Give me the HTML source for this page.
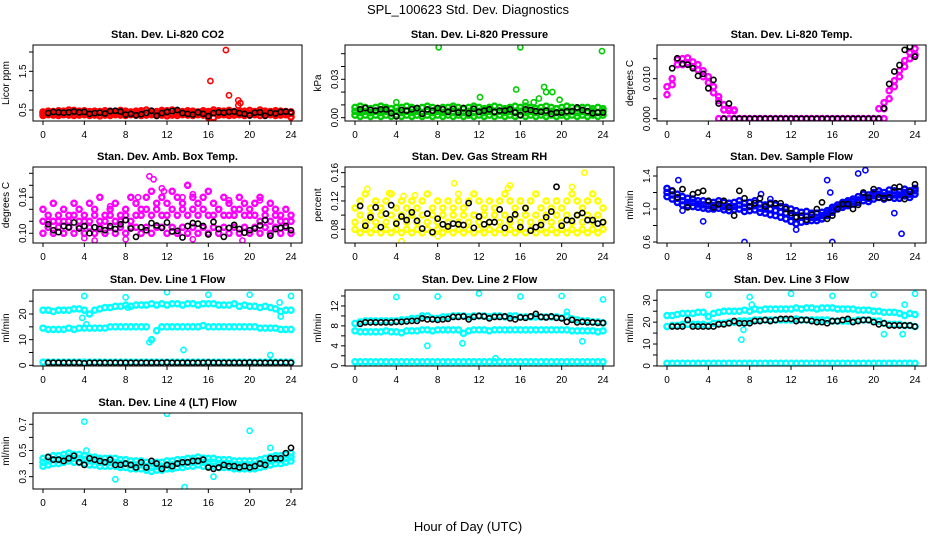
<!DOCTYPE html>
<html><head><meta charset="utf-8"><title>SPL_100623 Std. Dev. Diagnostics</title>
<style>
html,body{margin:0;padding:0;background:#fff;}
svg{display:block;font-family:"Liberation Sans",Arial,sans-serif;}
</style></head>
<body>
<svg id="chart" width="936" height="540" viewBox="0 0 936 540" xmlns="http://www.w3.org/2000/svg">
<text x="468" y="14" text-anchor="middle" font-size="13">SPL_100623  Std. Dev. Diagnostics</text>
<text x="468" y="531" text-anchor="middle" font-size="13">Hour of Day (UTC)</text>
<g id="panels"></g>
</svg>
<script>
const hours=[0,0.5,1,1.5,2,2.5,3,3.5,4,4.5,5,5.5,6,6.5,7,7.5,8,8.5,9,9.5,10,10.5,11,11.5,12,12.5,13,13.5,14,14.5,15,15.5,16,16.5,17,17.5,18,18.5,19,19.5,20,20.5,21,21.5,22,22.5,23,23.5,24];
const xTicks=[0,4,8,12,16,20,24];

// Panel 1: CO2
const co2A=[0.45,0.47,0.46,0.48,0.47,0.50,0.49,0.47,0.48,0.46,0.47,0.46,0.48,0.47,0.46,0.49,0.47,0.45,0.47,0.48,0.50,0.47,0.46,0.49,0.48,0.50,0.47,0.46,0.48,0.47,0.45,0.48,0.46,0.50,0.48,0.47,0.49,0.46,0.48,0.47,0.49,0.46,0.50,0.47,0.46,0.48,0.47,0.46,0.45];
const co2B=[0.36,0.38,0.37,0.36,0.38,0.37,0.36,0.37,0.38,0.36,0.37,0.35,0.37,0.36,0.38,0.37,0.36,0.38,0.37,0.36,0.37,0.38,0.36,0.37,0.35,0.37,0.36,0.38,0.37,0.36,0.38,0.37,0.36,0.30,0.37,0.38,0.36,0.37,0.38,0.36,0.37,0.38,0.36,0.37,0.38,0.36,0.37,0.38,0.32];
const co2C=[0.41,0.42,0.42,0.41,0.42,0.43,0.42,0.41,0.42,0.42,0.41,0.42,0.43,0.42,0.41,0.42,0.42,0.41,0.42,0.43,0.42,0.41,0.42,0.43,0.42,0.41,0.42,0.42,0.43,0.42,0.41,0.42,0.42,0.43,0.42,0.41,0.42,0.43,0.42,0.41,0.42,0.42,0.43,0.42,0.41,0.42,0.43,0.42,0.41];
const co2Black=[null,0.42,0.45,0.44,0.43,0.44,0.46,0.44,0.45,0.40,0.42,0.43,0.41,0.47,0.48,0.46,0.38,0.40,0.36,0.39,0.43,0.48,0.35,0.42,0.45,0.47,0.50,0.42,0.40,0.38,0.44,0.40,0.34,0.42,0.44,0.43,0.45,0.46,0.42,0.40,0.36,0.43,0.44,0.35,0.43,0.41,0.45,0.46,0.44];
const co2OutX=[17.7,16.2,18.0,18.9,19.1,18.9,16.0,24.0];
const co2OutY=[2.05,1.25,0.88,0.75,0.68,0.62,0.30,0.32];

// Panel 2: Pressure
const presA=[0.008,0.009,0.008,0.007,0.008,0.009,0.008,0.007,0.008,0.008,0.009,0.008,0.007,0.008,0.009,0.008,0.007,0.008,0.008,0.009,0.008,0.007,0.008,0.009,0.008,0.007,0.008,0.009,0.008,0.007,0.008,0.009,0.008,0.009,0.008,0.007,0.008,0.009,0.008,0.007,0.008,0.009,0.008,0.007,0.008,0.008,0.007,0.008,0.007];
const presB=[0.005,0.004,0.005,0.004,0.005,0.004,0.005,0.004,0.005,0.004,0.005,0.004,0.005,0.004,0.005,0.004,0.005,0.004,0.005,0.004,0.005,0.004,0.005,0.004,0.005,0.004,0.005,0.004,0.005,0.004,0.005,0.004,0.005,0.004,0.005,0.004,0.005,0.004,0.005,0.004,0.005,0.004,0.005,0.004,0.005,0.004,0.005,0.004,0.005];
const presC=[0.002,0.001,0.002,0.001,0.002,0.001,0.002,0.001,0.002,0.001,0.002,0.001,0.002,0.001,0.002,0.001,0.002,0.001,0.002,0.001,0.002,0.001,0.002,0.001,0.002,0.001,0.002,0.001,0.002,0.001,0.002,0.001,0.002,0.001,0.002,0.001,0.002,0.001,0.002,0.001,0.002,0.001,0.002,0.001,0.002,0.001,0.002,0.001,0.002];
const presBlack=[null,0.0065,0.0075,0.006,0.0055,0.0065,0.0065,0.0035,0.001,0.006,0.0055,0.0065,0.0075,0.003,0.0065,0.0055,0.0075,0.0065,0.0045,0.007,0.004,0.0075,0.0035,0.007,0.0045,0.0055,0.0065,0.0045,0.0055,0.0055,0.0065,0.004,0.002,0.0065,0.006,0.005,0.0045,0.0055,0.003,0.004,0.004,0.005,0.005,0.008,0.006,0.005,0.0035,0.004,0.004];
const presOutX=[8.1,16.0,23.9,15.6,18.3,18.5,19.1,12.1,17.8,19.8,4.0,16.5,17.3];
const presOutY=[0.055,0.055,0.052,0.022,0.024,0.020,0.020,0.016,0.015,0.014,0.012,0.012,0.012];

// Panel 3: Temp
const tempA=[0.008,0.010,0.0148,0.0150,0.0152,0.0142,0.0135,0.0120,0.0105,0.0080,0.0055,0.0035,0.0025,0.0022,0,0,0,0,0,0,0,0,0,0,0,0,0,0,0,0,0,0,0,0,0,0,0,0,0,0,0,0.0025,0.0040,0.0070,0.0095,0.0120,0.0145,0.0165,0.0175];
const tempB=[0.006,0.0085,0.0135,0.0135,0.0140,0.0130,0.0122,0.0105,0.0090,0.0065,0.0045,0.0022,0.0020,0.0020,0,0,0,0,0,0,0,0,0,0,0,0,0,0,0,0,0,0,0,0,0,0,0,0,0,0,0,0,0.0025,0.0050,0.0080,0.0105,0.0130,0.0150,0.0160];
const tempC=[null,null,null,null,null,null,null,null,null,null,0,0,0,0,0,0,0,0,0,0,0,0,0,0,0,0,0,0,0,0,0,0,0,0,0,0,0,0,0,0,0,0,0,null,null,null,null,null,null];
const tempBlack=[null,0.0126,0.0151,0.0137,0.0135,0.0126,0.0107,0.0112,0.0076,0.0097,0.0038,0,0.0038,0,0,0,0,0,0,0,0,0,0,0,0,0,0,0,0,0,0,0,0,0,0,0,0,0,0,0,0,0,0.0026,0.0087,0.0118,0.0134,0.0172,0.0180,0.0155];
const tempOutX=[];
const tempOutY=[];

// Panel 4: Amb Box Temp
const ambA=[0.14,0.13,0.15,0.12,0.14,0.13,0.15,0.14,0.13,0.15,0.14,0.16,0.13,0.14,0.15,0.13,0.14,0.16,0.15,0.14,0.16,0.17,0.15,0.16,0.15,0.17,0.16,0.15,0.18,0.16,0.15,0.16,0.17,0.15,0.14,0.16,0.15,0.14,0.16,0.15,0.14,0.15,0.16,0.14,0.15,0.14,0.13,0.14,0.13];
const ambB=[0.12,0.12,0.12,0.13,0.12,0.12,0.13,0.12,0.12,0.12,0.13,0.12,0.12,0.13,0.12,0.12,0.13,0.12,0.13,0.13,0.14,0.13,0.14,0.13,0.13,0.14,0.13,0.14,0.13,0.14,0.13,0.14,0.13,0.13,0.14,0.13,0.13,0.13,0.14,0.13,0.13,0.13,0.12,0.13,0.12,0.13,0.12,0.12,0.12];
const ambC=[0.10,0.11,0.10,0.11,0.10,0.11,0.10,0.11,0.10,0.11,0.10,0.11,0.10,0.11,0.10,0.11,0.10,0.11,0.11,0.10,0.11,0.10,0.11,0.11,0.10,0.11,0.10,0.11,0.10,0.11,0.10,0.11,0.10,0.11,0.10,0.11,0.10,0.11,0.10,0.11,0.10,0.11,0.10,0.11,0.10,0.11,0.10,0.11,0.10];
const ambBlack=[null,0.115,0.105,0.102,0.112,0.11,0.118,0.108,0.112,0.100,0.11,0.107,0.105,0.112,0.107,0.115,0.122,0.108,0.094,0.11,0.105,0.117,0.113,0.109,0.118,0.103,0.104,0.093,0.112,0.117,0.116,0.112,0.098,0.119,0.107,0.094,0.109,0.114,0.107,0.101,0.105,0.108,0.113,0.122,0.096,0.107,0.109,0.112,0.105];
const ambOutX=[10.3,10.7,11.5,11.7,14.5,18.0,21.0,9.2,6.5,4.0,5.0,8.0,14.5,19.3,1.0,13.5];
const ambOutY=[0.195,0.19,0.175,0.17,0.165,0.155,0.155,0.16,0.145,0.092,0.088,0.09,0.09,0.088,0.15,0.16];

// Panel 5: Gas Stream RH
const rhA=[0.11,0.12,0.13,0.11,0.12,0.11,0.12,0.13,0.11,0.12,0.11,0.12,0.11,0.12,0.13,0.11,0.12,0.11,0.12,0.11,0.12,0.11,0.12,0.13,0.12,0.11,0.12,0.11,0.12,0.13,0.12,0.11,0.12,0.11,0.12,0.13,0.11,0.12,0.11,0.12,0.11,0.12,0.13,0.12,0.11,0.12,0.13,0.12,0.11];
const rhB=[0.09,0.10,0.09,0.10,0.09,0.10,0.09,0.10,0.09,0.10,0.09,0.10,0.09,0.10,0.09,0.10,0.09,0.10,0.09,0.10,0.09,0.10,0.09,0.10,0.09,0.10,0.09,0.10,0.09,0.10,0.09,0.10,0.09,0.10,0.09,0.10,0.09,0.10,0.09,0.10,0.09,0.10,0.09,0.10,0.09,0.10,0.09,0.10,0.09];
const rhC=[0.08,0.075,0.08,0.075,0.08,0.075,0.08,0.075,0.08,0.075,0.08,0.075,0.08,0.075,0.08,0.075,0.08,0.075,0.08,0.075,0.08,0.075,0.08,0.075,0.08,0.075,0.08,0.075,0.08,0.075,0.08,0.075,0.08,0.075,0.08,0.075,0.08,0.075,0.08,0.075,0.08,0.075,0.08,0.075,0.08,0.075,0.08,0.075,0.08];
const rhBlack=[null,0.113,0.085,0.097,0.111,0.083,0.102,0.114,0.088,0.098,0.093,0.104,0.092,0.081,0.102,0.076,0.095,0.087,0.084,0.088,0.087,0.086,0.117,0.082,0.098,0.087,0.090,0.090,0.108,0.082,0.094,0.101,0.083,0.110,0.078,0.083,0.086,0.097,0.105,0.140,0.085,0.093,0.092,0.100,0.103,0.093,0.093,0.088,0.090];
const rhOutX=[1.2,3.3,4.7,9.6,14.8,15.0,22.2,21.0,5.8,4.5,10.0,8.0];
const rhOutY=[0.137,0.131,0.127,0.145,0.138,0.142,0.160,0.140,0.128,0.063,0.130,0.070];

// Panel 6: Sample Flow
const sfA=[1.25,1.22,1.18,1.15,1.13,1.12,1.10,1.10,1.09,1.08,1.10,1.08,1.07,1.08,1.10,1.07,1.08,1.10,1.06,1.05,1.07,1.05,1.03,1.02,1.00,0.98,0.96,0.97,0.95,0.95,0.96,0.98,1.02,1.05,1.08,1.10,1.12,1.15,1.18,1.17,1.20,1.22,1.20,1.23,1.22,1.21,1.24,1.22,1.25];
const sfB=[1.15,1.12,1.08,1.05,1.04,1.03,1.02,1.01,1.00,1.00,1.01,0.99,0.98,0.99,1.00,0.97,0.98,0.99,0.96,0.95,0.93,0.92,0.90,0.88,0.85,0.82,0.84,0.85,0.86,0.86,0.88,0.92,0.96,1.00,1.02,1.04,1.06,1.08,1.10,1.09,1.12,1.14,1.12,1.14,1.13,1.13,1.16,1.14,1.18];
const sfC=[1.20,1.17,1.13,1.10,1.08,1.08,1.06,1.05,1.04,1.04,1.05,1.03,1.03,1.03,1.05,1.02,1.03,1.04,1.01,1.00,1.00,0.98,0.96,0.95,0.92,0.90,0.90,0.91,0.90,0.90,0.92,0.95,0.99,1.02,1.05,1.07,1.09,1.11,1.14,1.13,1.16,1.18,1.16,1.18,1.17,1.17,1.20,1.18,1.22];
const sfBlack=[null,1.22,1.14,1.24,1.02,1.18,1.20,1.22,1.10,1.02,1.06,1.10,1.02,0.92,1.22,1.13,1.03,1.07,1.13,1.03,1.06,1.07,1.07,1.00,0.95,0.90,0.92,0.87,0.93,1.00,1.08,0.88,0.92,1.00,1.06,1.06,1.00,1.05,1.20,1.14,1.24,1.14,1.13,1.14,1.26,1.27,1.12,1.21,1.30];
const sfOutX=[1.1,3.5,7.5,15.5,15.8,16.0,18.5,19.2,22.7,10.0,9.1,12.5,22.0,1.5];
const sfOutY=[1.35,0.85,0.60,1.35,1.20,0.60,1.43,1.47,0.70,1.12,1.18,0.75,0.95,0.98];

// Panel 7: Line 1 Flow
const l1A=[21.5,21.5,21,21.5,21.5,21.5,22,22,21.5,20,21.5,22,22.5,22.5,23,23,23.5,23,23.5,23.5,23.5,24,23.5,24,23.5,24,24,23.5,24,24,23.5,24,24,24,23.5,23.5,23.5,24,23,23.5,23,23,22.5,23,22.5,22,21,21.5,21.5];
const l1B=[14.5,14,14,14,14,14.5,14,14.5,14.5,14.5,14.5,14.5,14.5,15,15,15,15,15,15,15,15,10,13.5,15,15,15,15,15,15,15,15,15.5,15,15,15,15,15,15,15,15,15,15,14.5,14.5,14.5,14.5,14,14,14];
const l1C=[1.2,1.2,1.2,1.2,1.2,1.2,1.2,1.2,1.2,1.2,1.2,1.2,1.2,1.2,1.2,1.2,1.2,1.2,1.2,1.2,1.2,1.2,1.2,1.2,1.2,1.2,1.2,1.2,1.2,1.2,1.2,1.2,1.2,1.2,1.2,1.2,1.2,1.2,1.2,1.2,1.2,1.2,1.2,1.2,1.2,1.2,1.2,1.2,1.2];
const l1Black=[null,1,1,1,1,1,1,1,0.8,1,1,1,1,1,1,1,1,1,1,1,1,1,1,1,1.1,1,1,1,1,1,1,1,1.1,1,1,1,1,1,1,1,1.1,1,1,1,1,1,1,1,1];
const l1OutX=[4.0,8.0,12.0,16.0,20.0,24.0,10.3,13.6,22.0,3.8,23.0,22.9,4.2,8.2];
const l1OutY=[27,26.5,28.5,27.5,27.5,27,9,6,4,18.5,19,24.5,16,22.5];

// Panel 8: Line 2 Flow
const l2A=[8.5,8.8,9,9,9,9,9,9,9,9.2,9.2,9.5,9.5,10,10,9.5,9.5,9.8,9.8,10,10,10,9.8,10,10,10,9.8,10,10,9.8,10,10,9.8,9.8,9.8,9.8,9.8,9.8,9.8,9.8,9.6,10,9.4,9.2,9,9,8.8,8.8,8.6];
const l2B=[7,6.8,6.8,6.8,6.8,6.8,7,6.8,6.8,6.6,7,7,7,7.2,7.2,7,7.2,7.2,7.2,7.2,7.2,6.5,7,7.2,7.2,7.2,7,7.2,7.2,7.2,7.2,7.2,7.2,7.2,7.2,7.2,7.2,7.2,7.2,7.2,7.2,7.2,7,7,7,7,7,6.8,7];
const l2C=[0.8,0.8,0.8,0.8,0.8,0.8,0.8,0.8,0.8,0.8,0.8,0.8,0.8,0.8,0.8,0.8,0.8,0.8,0.8,0.8,0.8,0.8,0.8,0.8,0.8,0.8,0.8,0.8,0.8,0.8,0.8,0.8,0.8,0.8,0.8,0.8,0.8,0.8,0.8,0.8,0.8,0.8,0.8,0.8,0.8,0.8,0.8,0.8,0.8];
const l2Black=[null,8.4,8.7,8.7,8.7,8.7,8.7,8.7,8.8,8.8,8.9,9.0,9.0,9.5,9.3,9.3,9.2,9.3,9.4,9.8,9.8,9.9,9.3,9.8,10,9.9,9.5,9.8,9.8,9.9,9.5,9.3,9.7,9.6,9.9,10.4,9.8,9.7,9.9,9.6,9.5,8.8,9.2,8.7,8.8,8.7,8.7,8.6,8.6];
const l2OutX=[4.0,8.0,12.0,16.0,20.0,24.0,7.0,10.4,22.0,13.6,20.5];
const l2OutY=[13.8,13.9,14.5,13.9,14.0,13.3,4.0,4.5,4.9,1.5,10.8];

// Panel 9: Line 3 Flow
const l3A=[23,23,23.5,24,24,24,24.5,24.5,22.5,24,24.5,25,25,25,25,25.5,25,26,25.5,26,26,26,26,26,26,26.5,26,26.5,26.5,26,26.5,26.5,26.5,26,26,26,26,25.5,25.5,25.5,25,25,24.5,24.5,24.5,24,23,24,23.5];
const l3B=[18,18.5,18.5,19,19,19,19,19,18.5,19.5,19.5,19.5,20,20,20.5,20.5,20.5,21,21,21,21,21,21,21,21,21.5,21,21,21,21,21,21,20.5,20.5,20.5,20.5,20.5,21,21,21,20.5,20.5,19.5,19,19,19,18.5,18.5,18];
const l3C=[1.2,1.2,1.2,1.2,1.2,1.2,1.2,1.2,1.2,1.2,1.2,1.2,1.2,1.2,1.2,1.2,1.2,1.2,1.2,1.2,1.2,1.2,1.2,1.2,1.2,1.2,1.2,1.2,1.2,1.2,1.2,1.2,1.2,1.2,1.2,1.2,1.2,1.2,1.2,1.2,1.2,1.2,1.2,1.2,1.2,1.2,1.2,1.2,1.2];
const l3Black=[null,18,18,18,21,18,18,18,18,18,19,19,19.5,20.5,19.5,19.5,19.5,20.5,20.5,21,20.5,21,21.5,21.5,21.5,20.5,21,21,20.5,20,20,19.5,20.5,20.5,21,21.5,20,20.5,21,21,20,19,19.5,18.5,18.5,18.5,18.5,18.5,18];
const l3OutX=[4.0,8.0,12.0,16.0,20.0,24.0,7.2,7.4,21.0,22.8,23.0,8.2];
const l3OutY=[32.5,31.5,33,32,32.5,33,12,16.5,14.5,14.5,28,28];

// Panel 10: Line 4 (LT) Flow
const l4A=[0.44,0.45,0.46,0.46,0.47,0.48,0.47,0.47,0.46,0.45,0.45,0.44,0.44,0.44,0.44,0.43,0.43,0.42,0.42,0.42,0.41,0.40,0.41,0.41,0.42,0.42,0.43,0.43,0.44,0.44,0.45,0.44,0.44,0.44,0.43,0.43,0.43,0.42,0.42,0.42,0.42,0.42,0.43,0.44,0.45,0.46,0.46,0.47,0.48];
const l4B=[0.38,0.39,0.40,0.40,0.41,0.42,0.41,0.41,0.40,0.39,0.39,0.38,0.38,0.38,0.38,0.37,0.37,0.36,0.36,0.36,0.35,0.34,0.35,0.35,0.36,0.36,0.37,0.37,0.38,0.38,0.39,0.38,0.38,0.38,0.37,0.37,0.37,0.36,0.36,0.36,0.36,0.36,0.37,0.38,0.39,0.40,0.40,0.41,0.42];
const l4C=[0.41,0.42,0.43,0.43,0.44,0.45,0.44,0.44,0.43,0.42,0.42,0.41,0.41,0.41,0.41,0.40,0.40,0.39,0.39,0.39,0.38,0.37,0.38,0.38,0.39,0.39,0.40,0.40,0.41,0.41,0.42,0.41,0.41,0.41,0.40,0.40,0.40,0.39,0.39,0.39,0.39,0.39,0.40,0.41,0.42,0.43,0.43,0.44,0.45];
const l4Black=[null,0.45,0.43,0.43,0.42,0.44,0.46,0.41,0.39,0.44,0.43,0.42,0.41,0.43,0.39,0.39,0.40,0.39,0.37,0.41,0.37,0.42,0.40,0.36,0.39,0.38,0.40,0.41,0.41,0.42,0.42,0.43,0.37,0.36,0.37,0.39,0.38,0.38,0.37,0.38,0.37,0.38,0.40,0.39,0.44,0.44,0.44,0.48,0.52];
const l4OutX=[4.0,12.0,20.0,13.7,7.0,16.5,22.0,4.2];
const l4OutY=[0.72,0.78,0.65,0.22,0.28,0.30,0.52,0.50];

const NS='http://www.w3.org/2000/svg';
const root=document.getElementById('panels');
function mk(tag,attrs,parent){const e=document.createElementNS(NS,tag);for(const k in attrs)e.setAttribute(k,attrs[k]);(parent||root).appendChild(e);return e;}

const panels=[
 {name:'co2',title:'Stan. Dev. Li-820 CO2',ylab:'Licor ppm',col:0,row:0,ymin:0.216,ymax:2.181,ticks:[0.5,1,1.5,2],labels:[0.5,1.5],fmt:1,color:'#ff0000',series:[co2A,co2B,co2C],black:co2Black,ox:co2OutX,oy:co2OutY},
 {name:'pressure',title:'Stan. Dev. Li-820 Pressure',ylab:'kPa',col:1,row:0,ymin:-0.0026,ymax:0.0568,ticks:[0,0.01,0.02,0.03,0.04,0.05],labels:[0,0.03],fmt:2,color:'#00cc00',series:[presA,presB,presC],black:presBlack,ox:presOutX,oy:presOutY},
 {name:'temp',title:'Stan. Dev. Li-820 Temp.',ylab:'degrees C',col:2,row:0,ymin:-0.000575,ymax:0.01842,ticks:[0,0.005,0.01,0.015],labels:[0,0.01],fmt:3,color:'#ff00ff',series:[tempA,tempB,tempC],black:tempBlack,ox:tempOutX,oy:tempOutY},
 {name:'amb-box',title:'Stan. Dev. Amb. Box Temp.',ylab:'degrees C',col:0,row:1,ymin:0.0838,ymax:0.2105,ticks:[0.10,0.12,0.14,0.16,0.18,0.20],labels:[0.10,0.16],fmt:2,color:'#ff00ff',series:[ambA,ambB,ambC],black:ambBlack,ox:ambOutX,oy:ambOutY},
 {name:'rh',title:'Stan. Dev. Gas Stream RH',ylab:'percent',col:1,row:1,ymin:0.0606,ymax:0.168,ticks:[0.08,0.10,0.12,0.14,0.16],labels:[0.08,0.12,0.16],fmt:2,color:'#ffff00',series:[rhA,rhB,rhC],black:rhBlack,ox:rhOutX,oy:rhOutY},
 {name:'sample-flow',title:'Stan. Dev. Sample Flow',ylab:'ml/min',col:2,row:1,ymin:0.588,ymax:1.509,ticks:[0.6,0.8,1.0,1.2,1.4],labels:[0.6,1.0,1.4],fmt:1,color:'#0000ff',series:[sfA,sfB,sfC],black:sfBlack,ox:sfOutX,oy:sfOutY},
 {name:'line1',title:'Stan. Dev. Line 1 Flow',ylab:'ml/min',col:0,row:2,ymin:-0.27,ymax:29.36,ticks:[0,5,10,15,20,25],labels:[0,10,20],fmt:0,color:'#00ffff',series:[l1A,l1B,l1C],black:l1Black,ox:l1OutX,oy:l1OutY},
 {name:'line2',title:'Stan. Dev. Line 2 Flow',ylab:'ml/min',col:1,row:2,ymin:-0.05,ymax:15.2,ticks:[0,2,4,6,8,10,12,14],labels:[0,4,8,12],fmt:0,color:'#00ffff',series:[l2A,l2B,l2C],black:l2Black,ox:l2OutX,oy:l2OutY},
 {name:'line3',title:'Stan. Dev. Line 3 Flow',ylab:'ml/min',col:2,row:2,ymin:-0.05,ymax:34.7,ticks:[0,5,10,15,20,25,30],labels:[0,10,20,30],fmt:0,color:'#00ffff',series:[l3A,l3B,l3C],black:l3Black,ox:l3OutX,oy:l3OutY},
 {name:'line4',title:'Stan. Dev. Line 4 (LT) Flow',ylab:'ml/min',col:0,row:3,ymin:0.206,ymax:0.786,ticks:[0.3,0.4,0.5,0.6,0.7],labels:[0.3,0.5,0.7],fmt:1,color:'#00ffff',series:[l4A,l4B,l4C],black:l4Black,ox:l4OutX,oy:l4OutY}
];
const colLeft=[33,345,657], rowTop=[45,167,290,413], BW=269, BH=76;

panels.forEach(function(p){
  const L=colLeft[p.col], T=rowTop[p.row], B=T+BH, R=L+BW;
  const xs=function(h){return L+10+h*(248/24);};
  const ys=function(v){return B-(v-p.ymin)/(p.ymax-p.ymin)*BH;};
  const g=mk('g',{});
  
  
  const cp=mk('clipPath',{id:'clip-'+p.name},g);
  mk('rect',{x:L,y:T,width:BW,height:BH},cp);
  const t=mk('text',{x:L+BW/2,y:T-7,'text-anchor':'middle','font-size':'11','font-weight':'bold'},g);
  t.textContent=p.title;
  
  
  const pts=mk('g',{'clip-path':'url(#clip-'+p.name+')',fill:'none'},g);
  
  
  p.series.forEach(function(arr){
    arr.forEach(function(v,i){
      if(v===null||v===undefined) return;
      const c=mk('circle',{cx:xs(hours[i]),cy:ys(v),r:2.6,stroke:p.color,'stroke-width':2.4},pts);
      
      
    });
  });
  p.ox.forEach(function(h,i){
    const c=mk('circle',{cx:xs(h),cy:ys(p.oy[i]),r:2.6,stroke:p.color,'stroke-width':1.6},pts);
    
    
  });
  p.black.forEach(function(v,i){
    if(v===null||v===undefined) return;
    const c=mk('circle',{cx:xs(hours[i]),cy:ys(v),r:2.6,stroke:'#000','stroke-width':1.6},pts);
    
    
  });
  const bx=mk('rect',{x:L,y:T,width:BW,height:BH,fill:'none',stroke:'#000','stroke-width':1},g);
  
  
  const xa=mk('g',{},g);
  
  
  xTicks.forEach(function(h){
    mk('line',{x1:xs(h),x2:xs(h),y1:B,y2:B+4,stroke:'#000'},xa);
    const tl=mk('text',{x:xs(h),y:B+17,'text-anchor':'middle','font-size':'10'},xa);
    tl.textContent=h;
  });
  const ya=mk('g',{},g);
  
  
  p.ticks.forEach(function(v){
    mk('line',{x1:L-4,x2:L,y1:ys(v),y2:ys(v),stroke:'#000'},ya);
  });
  p.labels.forEach(function(v){
    const yy=ys(v);
    const tl=mk('text',{x:L-7,y:yy,'text-anchor':'middle','font-size':'10',transform:'rotate(-90 '+(L-7)+' '+yy+')'},ya);
    tl.textContent=v.toFixed(p.fmt);
  });
  const yl=mk('text',{x:L-24,y:T+BH/2,'text-anchor':'middle','font-size':'10',transform:'rotate(-90 '+(L-24)+' '+(T+BH/2)+')'},g);
  yl.textContent=p.ylab;
  
  
});
</script>
</body></html>
